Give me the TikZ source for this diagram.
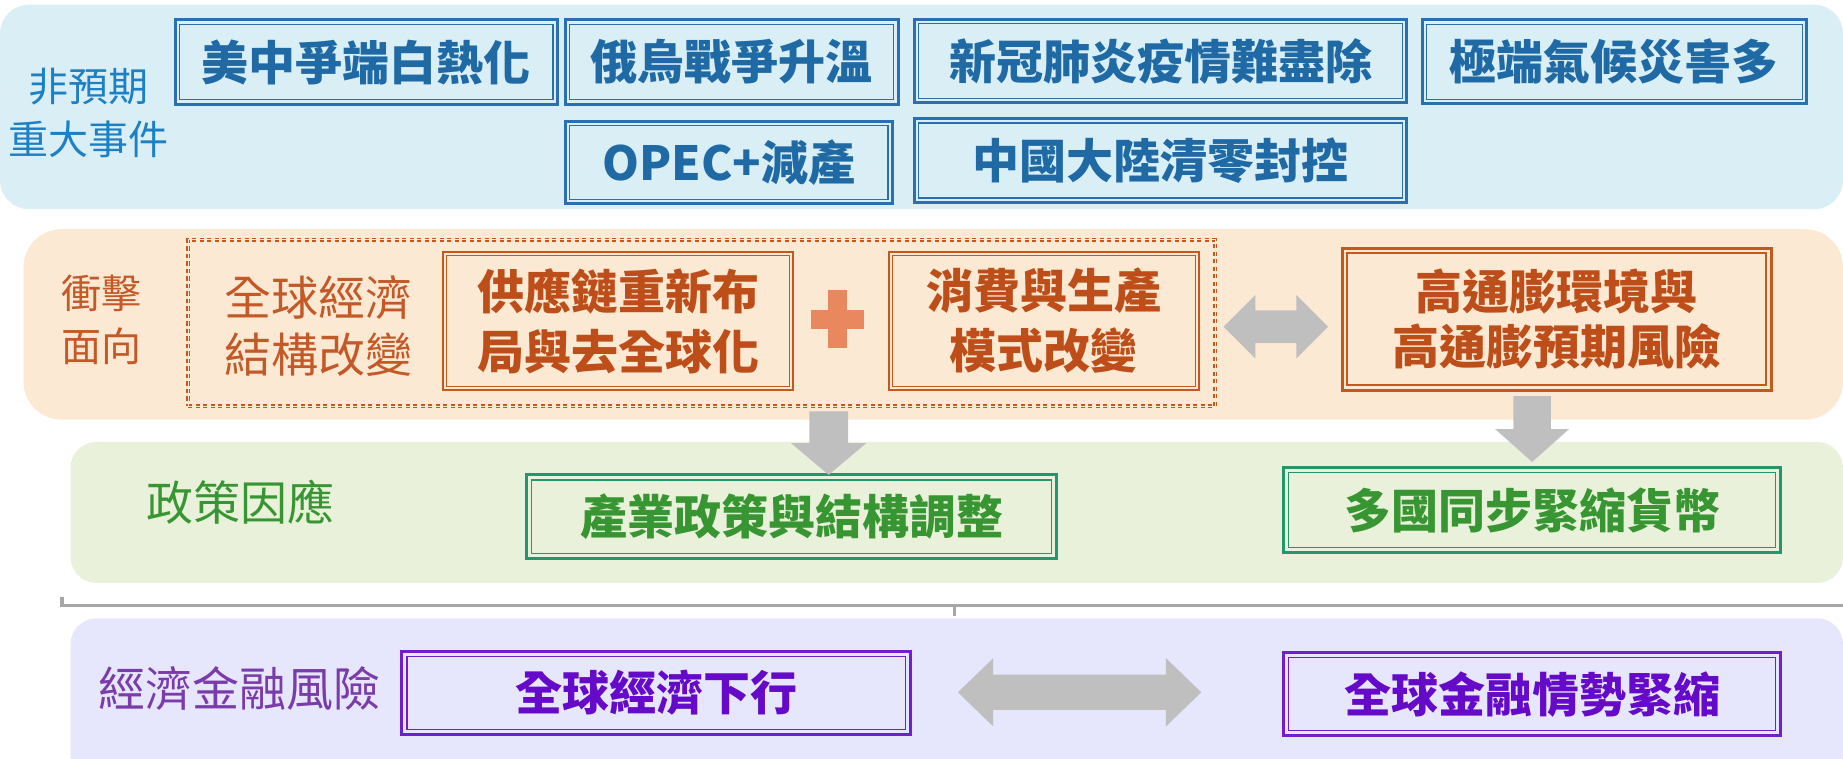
\documentclass[tikz,border=0pt]{standalone}
\usepackage{fontspec}
\setmainfont{Noto Sans CJK TC}
\usetikzlibrary{calc}
\definecolor{blueband}{RGB}{218,238,245}
\definecolor{bluebd}{RGB}{42,112,176}
\definecolor{bluetxt}{RGB}{31,106,165}
\definecolor{bluelab}{RGB}{28,128,196}
\definecolor{orangeband}{RGB}{252,233,211}
\definecolor{orangebd}{RGB}{196,89,30}
\definecolor{orangetxt}{RGB}{190,78,25}
\definecolor{orangelab}{RGB}{196,89,40}
\definecolor{plusc}{RGB}{233,135,94}
\definecolor{greenband}{RGB}{233,241,219}
\definecolor{greenbd}{RGB}{36,150,110}
\definecolor{greentxt}{RGB}{56,150,50}
\definecolor{purpleband}{RGB}{230,230,252}
\definecolor{purplebd}{RGB}{112,30,210}
\definecolor{purpletxt}{RGB}{100,10,200}
\definecolor{purplelab}{RGB}{122,60,170}
\definecolor{arrowgray}{RGB}{191,191,191}
\definecolor{bracketgray}{RGB}{166,166,166}
\newcommand\fsz[2]{\fontsize{#1pt}{#2pt}\selectfont}
\newcommand\bx[7]{\node[#6, minimum width={(#4-#2)*1.1754pt}, minimum height={(#5-#3)*1.1754pt}] (#1) at ({(#2+#4)/2},{(#3+#5)/2}) {#7};}
\newcommand\inframe[4]{\draw[draw=#2, line width=#4] ($(#1.north west)+(#3,#3)$) rectangle ($(#1.south east)+(-#3,-#3)$);}
\newcommand\grayDown[6]{\fill[arrowgray] ({#1-#5},#2) -- ({#1+#5},#2) -- ({#1+#5},#3) -- ({#1+#6},#3) -- (#1,#4) -- ({#1-#6},#3) -- ({#1-#5},#3) -- cycle;}
\newcommand\grayLR[6]{\fill[arrowgray] (#1,#3) -- ({#1+#6},{#3-#5}) -- ({#1+#6},{#3-#4}) -- ({#2-#6},{#3-#4}) -- ({#2-#6},{#3-#5}) -- (#2,#3) -- ({#2-#6},{#3+#5}) -- ({#2-#6},{#3+#4}) -- ({#1+#6},{#3+#4}) -- ({#1+#6},{#3+#5}) -- cycle;}
\tikzset{
  boxbase/.style={inner sep=0pt, outer sep=0pt, align=center, font=\bfseries\fsz{47}{56}},
  evbox/.style={boxbase, draw=bluebd, fill=blueband, line width=3pt, text=bluetxt},
  shbox/.style={boxbase, draw=orangebd, fill=orangeband, line width=2pt, text=orangetxt, font=\bfseries\fsz{47}{60}},
  infbox/.style={boxbase, draw=orangebd, fill=orangeband, line width=3pt, text=orangetxt, font=\bfseries\fsz{47}{55}},
  polbox/.style={boxbase, draw=greenbd, fill=greenband, line width=3pt, text=greentxt},
  riskbox/.style={boxbase, draw=purplebd, fill=purpleband, line width=3pt, text=purpletxt},
  grpbox/.style={inner sep=0pt, outer sep=0pt, draw=orangebd, double=orangeband, line width=1.4pt, double distance=1.1pt, dash pattern=on 4.2pt off 3.3pt},
  lab/.style={inner sep=0pt, align=center}
}
\begin{document}
\begin{tikzpicture}[x=1.1754pt, y=-1.1754pt]
\useasboundingbox (0,0) rectangle (1568,645);
\clip (0,0) rectangle (1568,645);
% bands
\fill[blueband, rounded corners=29pt] (0,4) rectangle (1568,178);
\fill[orangeband, rounded corners=38pt] (20,195) rectangle (1568,357);
\fill[greenband, rounded corners=26pt] (60,376) rectangle (1568,496);
\fill[purpleband, rounded corners=26pt] (60,526) rectangle (1568,680);
% row 1 labels
\node[lab, text=bluelab, font=\fsz{40}{53}] (l1) at (75,96.5) {非預期\\重大事件};
\bx{b1}{149}{17}{474}{88.5}{evbox}{美中爭端白熱化}
\bx{b2}{481}{17}{764}{88.5}{evbox}{俄烏戰爭升溫}
\bx{b3}{778}{16.5}{1197}{87.5}{evbox}{新冠肺炎疫情難盡除}
\bx{b4}{1210}{17}{1537}{88}{evbox}{極端氣候災害多}
\bx{b5}{481}{103}{759}{173.5}{evbox}{OPEC+減產}
\bx{b6}{778}{101}{1197}{172}{evbox}{中國大陸清零封控}
\foreach \n in {b1,b2,b3,b4,b5,b6}{\inframe{\n}{bluebd}{3.6}{1.3pt}}
% row 2
\node[lab, text=orangelab, font=\fsz{40}{53}] (l2) at (86,272.5) {衝擊\\面向};
\bx{grp}{160}{204}{1034}{345.5}{grpbox}{}
\node[lab, text=orangelab, font=\fsz{47}{57.6}] (l2b) at (271,277.5) {全球經濟\\結構改變};
\bx{s1}{377}{214}{675}{332}{shbox}{供應鏈重新布\\局與去全球化}
\bx{s2}{756}{214}{1020}{332}{shbox}{消費與生產\\模式改變}
\inframe{s1}{orangebd}{3}{0.9pt}
\inframe{s2}{orangebd}{3}{0.9pt}
\fill[plusc] (690,263.5) rectangle (735,279.5);
\fill[plusc] (704.5,247) rectangle (720.5,296);
\bx{s3}{1142}{211}{1507}{332}{infbox}{高通膨環境與\\高通膨預期風險}
\inframe{s3}{orangebd}{4.2}{1.8pt}
\grayLR{1041}{1130}{278}{14}{27}{27}
% row 3
\node[lab, text=greentxt, font=\fsz{47}{56}] (l3) at (204.5,427) {政策因應};
\bx{g1}{448}{404}{899}{475}{polbox}{產業政策與結構調整}
\bx{g2}{1092}{398}{1515}{470}{polbox}{多國同步緊縮貨幣}
\inframe{g1}{greenbd}{4.3}{1.2pt}
\inframe{g2}{greenbd}{4.3}{1.2pt}
\grayDown{705}{350}{377}{404}{16.5}{32}
\grayDown{1303.5}{337}{365}{393}{16}{31.5}
% bracket
\coordinate (brL) at (52.5,508);
\coordinate (brM) at (812,515);
\draw[bracketgray, line width=3.6pt] (brL) -- (52.5,515) -- (1580,515);
\draw[bracketgray, line width=2.2pt] (brM) -- (812,524);
% row 4
\node[lab, text=purplelab, font=\fsz{47}{56}] (l4) at (204,586) {經濟金融風險};
\bx{p1}{342}{554}{775}{625}{riskbox}{全球經濟下行}
\bx{p2}{1092}{555}{1515}{626}{riskbox}{全球金融情勢緊縮}
\inframe{p1}{purplebd}{4.3}{1.2pt}
\inframe{p2}{purplebd}{4.3}{1.2pt}
\grayLR{815}{1022}{589}{15}{29}{30}
\end{tikzpicture}
\end{document}
